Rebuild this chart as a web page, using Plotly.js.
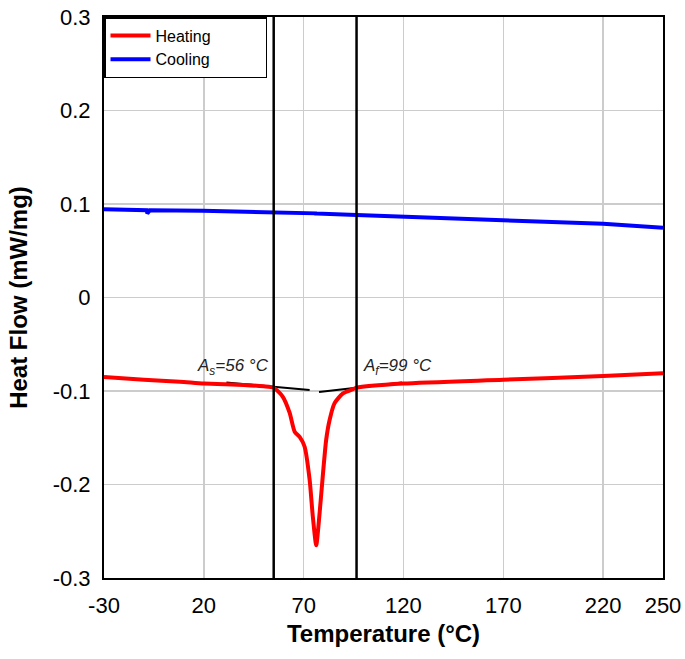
<!DOCTYPE html>
<html>
<head>
<meta charset="utf-8">
<script src="https://cdn.plot.ly/plotly-3.0.1.min.js"></script>
<style>html,body{margin:0;padding:0;background:#fff;}#chart{width:685px;height:659px;}</style>
</head>
<body>
<div id="chart"></div>
<script>
// Heating curve (°C, mW/mg)
const heatT = [-30, -10, 8, 20, 40, 50, 55, 59.5, 63, 65.5, 68, 70.5, 73, 74.6, 76.3, 78, 79.7, 81.3, 83, 85.5, 89.7, 94.7, 96.5, 120, 170, 220, 250];
const heatQ = [-0.085, -0.088, -0.090, -0.092, -0.0935, -0.095, -0.0965, -0.106, -0.1235, -0.1435, -0.149, -0.1596, -0.195, -0.2344, -0.265, -0.2305, -0.188, -0.152, -0.131, -0.113, -0.1025, -0.098, -0.0965, -0.092, -0.088, -0.084, -0.081];
// Cooling curve
const coolT = [-30, -10, -8.6, -8.3, -7, 19.5, 55, 70, 76, 76.3, 76.6, 96.5, 158, 220, 250];
const coolQ = [0.0943, 0.0935, 0.0934, 0.090, 0.0933, 0.0928, 0.0915, 0.0905, 0.0900, 0.0885, 0.0899, 0.0882, 0.0836, 0.0788, 0.0746];
// Tangent construction lines
const tanLeftT = [31.3, 73];
const tanLeftQ = [-0.091, -0.099];
const tanRightT = [77.7, 119.3];
const tanRightQ = [-0.101, -0.091];
// Transformation temperature markers
const asLineT = [55, 55];
const afLineT = [96.5, 96.5];
const vLineQ = [-0.3, 0.3];
// Labels
const asLabel = {x: 15.5, y: -0.0885, text: '<i>A<sub>s</sub>=56 °C</i>'};
const afLabel = {x: 98.5, y: -0.0885, text: '<i>A<sub>f</sub>=99 °C</i>'};
const seriesNames = ['Heating', 'Cooling'];
const xTicks = [-30, 20, 70, 120, 170, 220, 250];
const yTicks = [-0.3, -0.2, -0.1, 0, 0.1, 0.2, 0.3];
const yTickText = ['-0.3', '-0.2', '-0.1', '0', '0.1', '0.2', '0.3'];

const pad = '\u00a0'.repeat(11);
const traces = [
  {x: tanLeftT, y: tanLeftQ, mode: 'lines', line: {color: '#000', width: 2}, showlegend: false, hoverinfo: 'skip'},
  {x: tanRightT, y: tanRightQ, mode: 'lines', line: {color: '#000', width: 2}, showlegend: false, hoverinfo: 'skip'},
  {x: heatT, y: heatQ, mode: 'lines', name: seriesNames[0] + pad, line: {color: '#ff0000', width: 4, shape: 'spline', smoothing: 0.6}},
  {x: coolT, y: coolQ, mode: 'lines', name: seriesNames[1] + pad, line: {color: '#0000ff', width: 4}},
  {x: asLineT, y: vLineQ, mode: 'lines', line: {color: '#000', width: 2.5}, showlegend: false, hoverinfo: 'skip'},
  {x: afLineT, y: vLineQ, mode: 'lines', line: {color: '#000', width: 2.5}, showlegend: false, hoverinfo: 'skip'}
];

const layout = {
  width: 685, height: 659,
  margin: {l: 104, r: 22, t: 17, b: 81},
  paper_bgcolor: '#fff', plot_bgcolor: '#fff',
  font: {family: 'Liberation Sans, Arial, sans-serif', color: '#000'},
  xaxis: {
    range: [-30, 250], tickvals: xTicks, ticktext: xTicks.map(String),
    showgrid: true, gridcolor: '#cccccc', gridwidth: 1.5, zeroline: false,
    showline: true, mirror: true, linecolor: '#000', linewidth: 2,
    ticks: 'outside', ticklen: 7, tickcolor: 'rgba(0,0,0,0)',
    tickfont: {size: 22, color: '#000'},
    title: {text: '<b>Temperature (°C)</b>', font: {size: 24, color: '#000'}, standoff: 8}
  },
  yaxis: {
    range: [-0.3, 0.3], tickvals: yTicks, ticktext: yTickText,
    showgrid: true, gridcolor: '#cccccc', gridwidth: 1.5, zeroline: false,
    showline: true, mirror: true, linecolor: '#000', linewidth: 2,
    ticks: 'outside', ticklen: 7, tickcolor: 'rgba(0,0,0,0)',
    tickfont: {size: 22, color: '#000'},
    title: {text: '<b>Heat Flow (mW/mg)</b>', font: {size: 24, color: '#000'}, standoff: 18}
  },
  legend: {
    x: 0, y: 1, xanchor: 'left', yanchor: 'top',
    bgcolor: '#fff', bordercolor: '#000', borderwidth: 1.5,
    font: {size: 16, color: '#000'}, tracegroupgap: 0,
    itemwidth: 40
  },
  annotations: [
    {x: asLabel.x, y: asLabel.y, text: asLabel.text, showarrow: false, xanchor: 'left', yanchor: 'bottom', font: {size: 17, color: '#222'}},
    {x: afLabel.x, y: afLabel.y, text: afLabel.text, showarrow: false, xanchor: 'left', yanchor: 'bottom', font: {size: 17, color: '#222'}}
  ]
};

Plotly.newPlot('chart', traces, layout, {displayModeBar: false, staticPlot: true});
</script>
</body>
</html>
